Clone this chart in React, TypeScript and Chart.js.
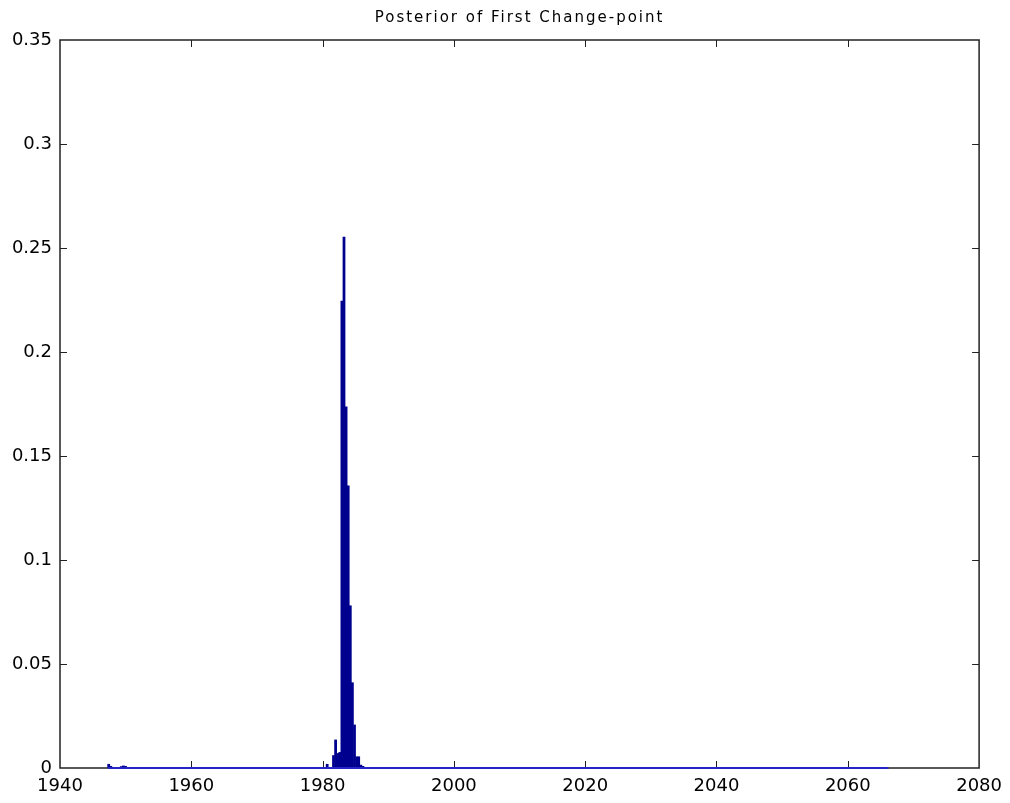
import { useEffect, useRef } from "react";
import { Chart, registerables } from "chart.js";

Chart.register(...registerables);

// bin centres (year) and posterior probability of the non-empty bins
const binYears = [
  1947.42, 1947.74, 1949.34, 1949.66, 1949.98,
  1980.70, 1981.66, 1981.98, 1982.30, 1982.62,
  1982.94, 1983.26, 1983.58, 1983.90, 1984.22,
  1984.54, 1984.86, 1985.18, 1985.50, 1985.82, 1986.14,
];
const binProbs = [
  0.0018, 0.0008, 0.0007, 0.0010, 0.0008,
  0.0018, 0.0060, 0.0135, 0.0070, 0.0075,
  0.2245, 0.2553, 0.1736, 0.1357, 0.0780,
  0.0410, 0.0207, 0.0054, 0.0054, 0.0014, 0.0008,
];
// first and last bin of the histogram (zero-height bins draw the baseline)
const binRange = [1947.3, 2066.2];

const xTicks = [1940, 1960, 1980, 2000, 2020, 2040, 2060, 2080];
const yTicks = [0, 0.05, 0.1, 0.15, 0.2, 0.25, 0.3, 0.35];

const titleText = "Posterior of First Change-point";
const fontFamily = "'DejaVu Sans', Verdana, sans-serif";

// MATLAB-like box with inward ticks on all four sides, drawn under the data
const boxPlugin = {
  id: "matlabBox",
  beforeDatasetsDraw(chart: Chart) {
    const { ctx, chartArea } = chart;
    const { left, right, top, bottom } = chartArea;
    const len = 7;
    ctx.save();
    ctx.strokeStyle = "#222";
    ctx.lineWidth = 1;
    const xs = chart.scales.x;
    const ys = chart.scales.y;
    ctx.beginPath();
    xTicks.forEach((t, i) => {
      if (i === 0 || i === xTicks.length - 1) return;
      const px = Math.round(xs.getPixelForValue(t)) + 0.5;
      ctx.moveTo(px, bottom);
      ctx.lineTo(px, bottom - len);
      ctx.moveTo(px, top);
      ctx.lineTo(px, top + len);
    });
    yTicks.forEach((t, i) => {
      if (i === 0 || i === yTicks.length - 1) return;
      const py = Math.round(ys.getPixelForValue(t)) + 0.5;
      ctx.moveTo(left, py);
      ctx.lineTo(left + len, py);
      ctx.moveTo(right, py);
      ctx.lineTo(right - len, py);
    });
    ctx.stroke();
    ctx.lineWidth = 1.5;
    ctx.strokeRect(left, top, right - left, bottom - top);
    ctx.restore();
  },
  // title centred over the axes, with the spaced-out look of the original
  afterDraw(chart: Chart) {
    const { ctx, chartArea } = chart;
    ctx.save();
    ctx.fillStyle = "#000";
    ctx.font = `15px ${fontFamily}`;
    (ctx as any).letterSpacing = "2px";
    ctx.textAlign = "center";
    ctx.textBaseline = "middle";
    ctx.fillText(titleText, (chartArea.left + chartArea.right) / 2, 18);
    ctx.restore();
  },
};

export default function App() {
  const chartRef = useRef<HTMLCanvasElement>(null);
  const chartInstance = useRef<Chart | null>(null);

  useEffect(() => {
    document.body.style.margin = "0";
    if (!chartRef.current) return;
    if (chartInstance.current) chartInstance.current.destroy();
    const ctx = chartRef.current.getContext("2d");
    if (!ctx) return;

    chartInstance.current = new Chart(ctx, {
      type: "bar",
      data: {
        datasets: [
          {
            type: "line",
            label: "baseline",
            data: binRange.map((x) => ({ x, y: 0 })),
            borderColor: "#2626c8",
            borderWidth: 2,
            pointRadius: 0,
            clip: 4,
            order: 0,
          } as any,
          {
            type: "bar",
            label: "Posterior",
            data: binYears.map((x, i) => ({ x, y: binProbs[i] })),
            backgroundColor: "#00008f",
            borderWidth: 0,
            barPercentage: 1,
            categoryPercentage: 1,
            order: 1,
          },
        ],
      },
      options: {
        animation: false,
        responsive: true,
        maintainAspectRatio: false,
        layout: { padding: { left: 0, right: 30, top: 40, bottom: 0 } },
        scales: {
          x: {
            type: "linear",
            min: 1940,
            max: 2080,
            offset: false,
            grid: { display: false, offset: false, drawTicks: false },
            border: { display: false },
            afterBuildTicks: (scale: any) => {
              scale.ticks = xTicks.map((value) => ({ value }));
            },
            afterFit: (scale: any) => {
              scale.height = 35;
            },
            ticks: {
              padding: 8,
              color: "#000",
              font: { family: fontFamily, size: 18 },
              maxRotation: 0,
              callback: (v: any) => String(v),
            },
          },
          y: {
            min: 0,
            max: 0.35,
            grid: { display: false, drawTicks: false },
            border: { display: false },
            afterBuildTicks: (scale: any) => {
              scale.ticks = yTicks.map((value) => ({ value }));
            },
            afterFit: (scale: any) => {
              scale.width = 60;
            },
            ticks: {
              padding: 8,
              color: "#000",
              font: { family: fontFamily, size: 18 },
              callback: (v: any) => String(Number(Number(v).toFixed(2))),
            },
          },
        },
        plugins: {
          legend: { display: false },
          tooltip: { enabled: false },
          title: { display: false },
        },
      },
      plugins: [boxPlugin],
    });

    return () => {
      if (chartInstance.current) {
        chartInstance.current.destroy();
        chartInstance.current = null;
      }
    };
  }, []);

  return (
    <div style={{ width: 1010, height: 803, background: "#fff" }}>
      <canvas ref={chartRef} />
    </div>
  );
}
